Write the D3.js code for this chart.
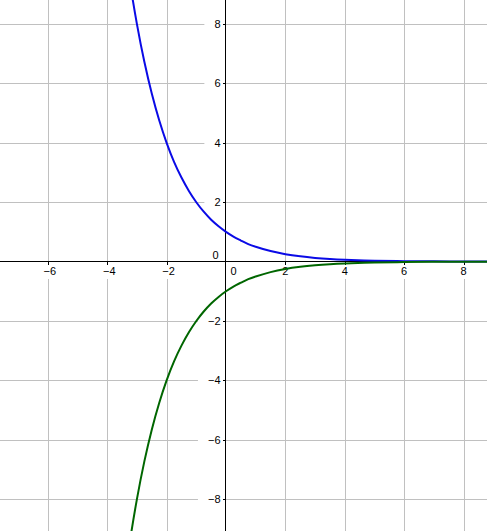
<!DOCTYPE html>
<html>
<head>
<meta charset="utf-8">
<script src="https://cdn.jsdelivr.net/npm/d3@7"></script>
<style>
  html, body { margin: 0; padding: 0; background: #ffffff; }
  svg { display: block; }
</style>
</head>
<body>
<svg id="chart"></svg>
<script>
// values
const xTicks = [-6, -4, -2, 2, 4, 6, 8];
const yTicks = [-8, -6, -4, -2, 2, 4, 6, 8];

const xs    = [-3.5, -3.25, -3, -2.75, -2.5, -2.25, -2, -1.75, -1.5, -1.25, -1, -0.75, -0.5, -0.25, 0, 0.25, 0.5, 0.75, 1, 1.5, 2, 2.5, 3, 3.5, 4, 5, 6, 7, 8, 9];
const blueY = [11.31, 9.51, 8, 6.73, 5.66, 4.76, 4, 3.36, 2.83, 2.38, 2, 1.68, 1.41, 1.19, 1, 0.84, 0.71, 0.59, 0.5, 0.354, 0.25, 0.177, 0.125, 0.088, 0.0625, 0.031, 0.016, 0.008, 0.004, 0.002];
const greenY = [-11.31, -9.51, -8, -6.73, -5.66, -4.76, -4, -3.36, -2.83, -2.38, -2, -1.68, -1.41, -1.19, -1, -0.84, -0.71, -0.59, -0.5, -0.354, -0.25, -0.177, -0.125, -0.088, -0.0625, -0.031, -0.016, -0.008, -0.004, -0.002];

const width = 487, height = 531;
const unit = 29.69;
const ox = 226, oy = 261.6;

const svg = d3.select('#chart')
  .attr('width', width)
  .attr('height', height)
  .style('font-family', '"Liberation Sans", Arial, sans-serif')
  .style('font-size', '11px');

const x = d3.scaleLinear()
  .domain([-ox / unit, (width - ox) / unit])
  .range([0, width]);

const y = d3.scaleLinear()
  .domain([-(height - oy) / unit, oy / unit])
  .range([height, 0]);

const X0 = Math.round(x(0)) - 0.5;
const Y0 = Math.round(y(0)) - 0.5;
const snap = v => Math.round(v) + 0.5;

// grid
const grid = svg.append('g')
  .attr('stroke', '#c0c0c0')
  .attr('stroke-width', 1)
  .attr('shape-rendering', 'crispEdges');

grid.selectAll('.vx')
  .data(xTicks)
  .enter().append('line')
  .attr('x1', d => snap(x(d))).attr('x2', d => snap(x(d)))
  .attr('y1', 0).attr('y2', height);

grid.selectAll('.hy')
  .data(yTicks)
  .enter().append('line')
  .attr('y1', d => snap(y(d))).attr('y2', d => snap(y(d)))
  .attr('x1', 0).attr('x2', width);

// labels (white boxes behind them break the grid)
const bgLayer = svg.append('g');
const labelLayer = svg.append('g').attr('fill', '#000');

const fmt = v => (v < 0 ? '\u2212' : '') + Math.abs(v);

xTicks.forEach(v => {
  const t = labelLayer.append('text')
    .attr('x', x(v) + (v < 0 ? 2 : 0))
    .attr('y', Y0 + 13)
    .attr('text-anchor', 'middle')
    .text(fmt(v));
  const b = t.node().getBBox();
  bgLayer.append('rect')
    .attr('x', b.x - 2).attr('width', b.width + 4)
    .attr('y', Y0 + 1.5).attr('height', 16)
    .attr('fill', '#fff');
});

yTicks.forEach(v => {
  const t = labelLayer.append('text')
    .attr('x', X0 - 5)
    .attr('y', y(v))
    .attr('dy', '0.35em')
    .attr('text-anchor', 'end')
    .text(fmt(v));
  const b = t.node().getBBox();
  bgLayer.append('rect')
    .attr('x', b.x - 10).attr('width', X0 - (b.x - 10))
    .attr('y', b.y - 1).attr('height', b.height + 2)
    .attr('fill', '#fff');
});

// the two zero labels
labelLayer.append('text')
  .attr('x', X0 - 7)
  .attr('y', Y0 - 6)
  .attr('dy', '0.35em')
  .attr('text-anchor', 'end')
  .text('0');

labelLayer.append('text')
  .attr('x', X0 + 5)
  .attr('y', Y0 + 13)
  .text('0');

// axes
const axes = svg.append('g')
  .attr('stroke', '#000')
  .attr('stroke-width', 1)
  .attr('shape-rendering', 'crispEdges');

axes.append('line')
  .attr('x1', 0).attr('x2', width)
  .attr('y1', Y0).attr('y2', Y0);

axes.append('line')
  .attr('x1', X0).attr('x2', X0)
  .attr('y1', 0).attr('y2', height);

axes.selectAll('.tx')
  .data(xTicks)
  .enter().append('line')
  .attr('x1', d => snap(x(d))).attr('x2', d => snap(x(d)))
  .attr('y1', Y0).attr('y2', Y0 + 3);

axes.selectAll('.ty')
  .data(yTicks)
  .enter().append('line')
  .attr('y1', d => snap(y(d))).attr('y2', d => snap(y(d)))
  .attr('x1', X0 - 3).attr('x2', X0);

// curves
const line = d3.line()
  .x(d => x(d[0]))
  .y(d => y(d[1]))
  .curve(d3.curveCatmullRom.alpha(0.5));

svg.append('path')
  .datum(d3.zip(xs, blueY))
  .attr('fill', 'none')
  .attr('stroke', '#0a0ae6')
  .attr('stroke-width', 2)
  .attr('d', line);

svg.append('path')
  .datum(d3.zip(xs, greenY))
  .attr('fill', 'none')
  .attr('stroke', '#006600')
  .attr('stroke-width', 2)
  .attr('d', line);
</script>
</body>
</html>
